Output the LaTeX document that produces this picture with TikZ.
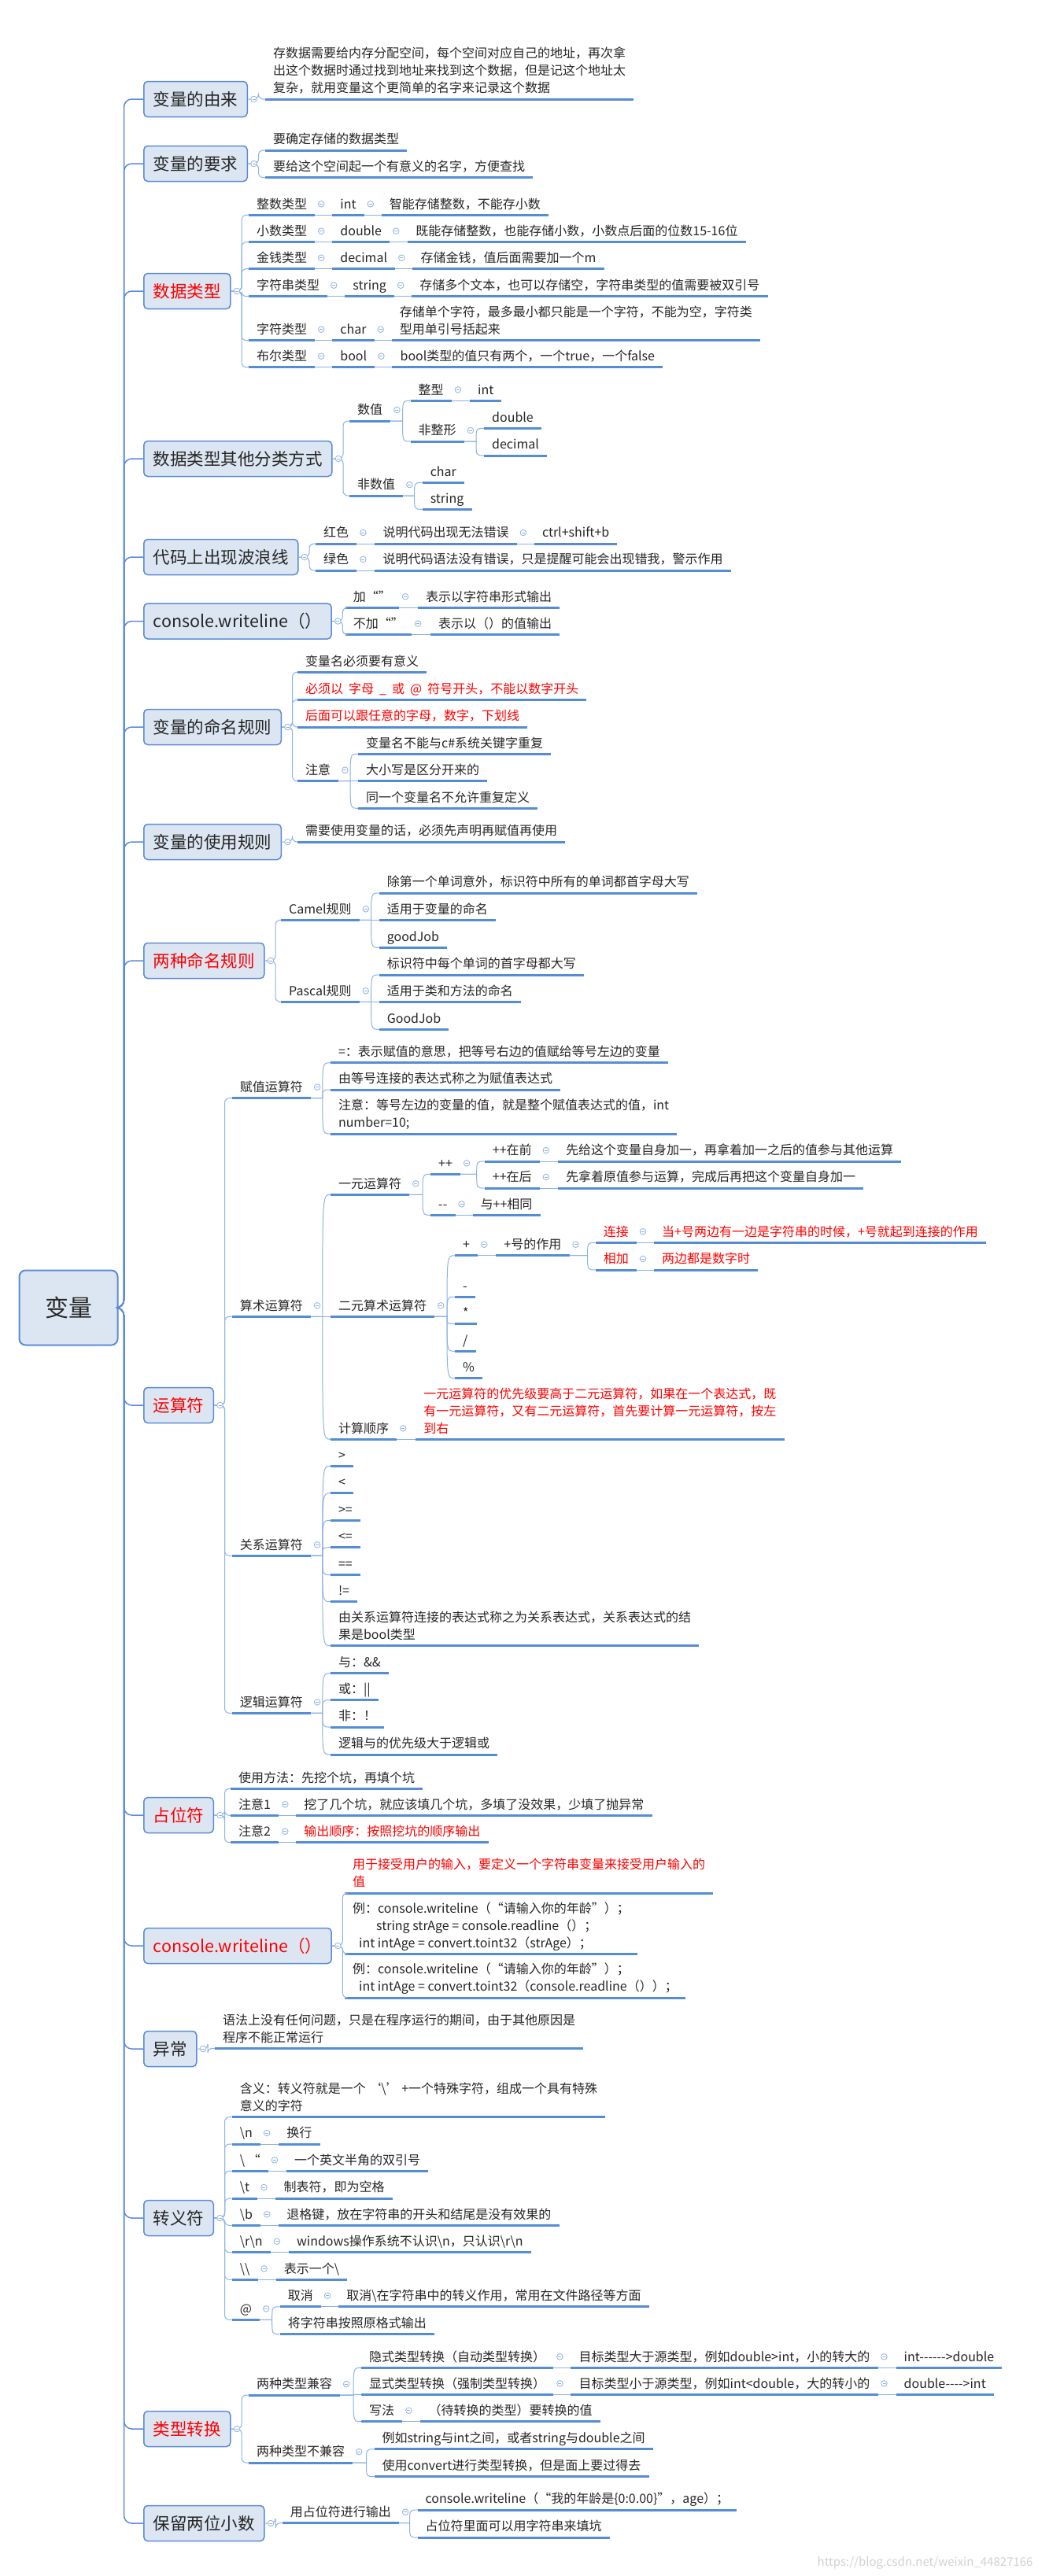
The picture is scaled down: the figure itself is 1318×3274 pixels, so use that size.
\documentclass[tikz,border=0pt]{standalone}
\usepackage{fontspec}
\setmainfont{Noto Sans CJK SC}[Ligatures=TeXOff]
\usetikzlibrary{calc}
\definecolor{ulblue}{HTML}{548DD4}
\definecolor{lnblue}{HTML}{8DB3E2}
\definecolor{boxfill}{HTML}{DCE6F2}
\definecolor{boxline}{HTML}{5B8BD6}
\definecolor{txt}{HTML}{262626}
\definecolor{hot}{HTML}{FF0000}
\newcommand\leaffont{\fontsize{16}{22}\selectfont}
\newcommand\topicfont{\fontsize{21.5}{26}\selectfont}
\tikzset{
  uline/.style={ulblue, line width=3pt},
  conn/.style={lnblue, line width=1pt},
  trunk/.style={boxline, line width=1.5pt, rounded corners=10pt},
  foldc/.style={lnblue, line width=0.8pt},
  leaf/.style={anchor=south west, inner xsep=10pt, inner ysep=0pt, text depth=8pt,
    font=\leaffont, text=txt, align=left,
    append after command={\pgfextra{\draw[uline] (\tikzlastnode.south west) -- (\tikzlastnode.south east);}}},
  hotleaf/.style={leaf, text=hot},
  topic/.style={draw=boxline, line width=1.5pt, fill=boxfill, rounded corners=5pt,
    anchor=west, inner xsep=12pt, minimum height=45pt, font=\topicfont, text=txt},
  hottopic/.style={topic, text=hot},
  rootbox/.style={draw=boxline, line width=2pt, fill=boxfill, rounded corners=8pt,
    minimum width=125pt, minimum height=95pt, font=\fontsize{30}{36}\selectfont, text=txt}
}
% collapse marker, links between nodes
\newcommand\foldmark[1]{\draw[foldc, fill=white] #1 circle[radius=3.8pt]; \draw[foldc] #1 ++(-2pt,0) -- ++(4pt,0);}
\newcommand\rowlink[2]{\draw[conn] (#1.south east) -- (#2.south west); \foldmark{([xshift=8pt,yshift=14pt]#1.south east)}}
\newcommand\boxlink[2]{\draw[conn, rounded corners=6pt] (#1.east) -- ++(13.5pt,0) |- (#2.south west);}
\newcommand\curvelink[2]{\path ([xshift=-10pt]#2.south west) coordinate (cj);
  \draw[conn] (#1.south east) -- (cj |- #1.south east) .. controls (cj) .. (#2.south west);}

\begin{document}
\begin{tikzpicture}[x=1pt, y=-1pt]
  \fill[white] (0,0) rectangle (1318,3274);
  \useasboundingbox (0,0) rectangle (1318,3274);
  % root and main topics
  \node[rootbox] (var) at (87,1662) {变量};
  \node[topic] (origin) at (182,126) {变量的由来};
  \node[topic] (req) at (182,208) {变量的要求};
  \node[hottopic] (dtype) at (182,370) {数据类型};
  \node[topic] (dother) at (182,583) {数据类型其他分类方式};
  \node[topic] (wave) at (182,708) {代码上出现波浪线};
  \node[topic] (cwa) at (182,789.5) {console.writeline（）};
  \node[topic] (naming) at (182,924) {变量的命名规则};
  \node[topic] (usage) at (182,1070) {变量的使用规则};
  \node[hottopic] (rules) at (182,1221) {两种命名规则};
  \node[hottopic] (ops) at (182,1786) {运算符};
  \node[hottopic] (place) at (182,2307) {占位符};
  \node[hottopic] (cwb) at (182,2473) {console.writeline（）};
  \node[topic] (exc) at (182,2604) {异常};
  \node[topic] (esc) at (182,2819) {转义符};
  \node[hottopic] (conv) at (182,3087) {类型转换};
  \node[topic] (keep) at (182,3207) {保留两位小数};
  \foreach \b in {origin,req,dtype,dother,wave,cwa,naming,usage,rules,ops,place,cwb,exc,esc,conv,keep}
    {\draw[trunk] (var.east) -- ++(7pt,0) |- (\b.west);}

  % 变量的由来 / 要求
  \node[leaf] (o1) at (337,126) {存数据需要给内存分配空间，每个空间对应自己的地址，再次拿\\出这个数据时通过找到地址来找到这个数据，但是记这个地址太\\复杂，就用变量这个更简单的名字来记录这个数据};
  \node[leaf] (r1) at (337,191) {要确定存储的数据类型};
  \node[leaf] (r2) at (337,225.7) {要给这个空间起一个有意义的名字，方便查找};
  \boxlink{origin}{o1}
  \foreach \c in {r1,r2} {\boxlink{req}{\c}}

  % 数据类型
  \node[leaf] (t1a) at (315.8,273.3) {整数类型};
  \node[leaf] (t1b) at ([xshift=22pt]t1a.south east) {int};
  \node[leaf] (t1c) at ([xshift=22pt]t1b.south east) {智能存储整数，不能存小数};
  \node[leaf] (t2a) at (315.8,307.7) {小数类型};
  \node[leaf] (t2b) at ([xshift=22pt]t2a.south east) {double};
  \node[leaf] (t2c) at ([xshift=23pt]t2b.south east) {既能存储整数，也能存储小数，小数点后面的位数15-16位};
  \node[leaf] (t3a) at (315.8,341.7) {金钱类型};
  \node[leaf] (t3b) at ([xshift=22pt]t3a.south east) {decimal};
  \node[leaf] (t3c) at ([xshift=22pt]t3b.south east) {存储金钱，值后面需要加一个m};
  \node[leaf] (t4a) at (315.8,376.7) {字符串类型};
  \node[leaf] (t4b) at ([xshift=22pt]t4a.south east) {string};
  \node[leaf] (t4c) at ([xshift=22pt]t4b.south east) {存储多个文本，也可以存储空，字符串类型的值需要被双引号};
  \node[leaf] (t5a) at (315.8,432.7) {字符类型};
  \node[leaf] (t5b) at ([xshift=22pt]t5a.south east) {char};
  \node[leaf] (t5c) at ([xshift=22pt]t5b.south east) {存储单个字符，最多最小都只能是一个字符，不能为空，字符类\\型用单引号括起来};
  \node[leaf] (t6a) at (315.8,466.7) {布尔类型};
  \node[leaf] (t6b) at ([xshift=22pt]t6a.south east) {bool};
  \node[leaf] (t6c) at ([xshift=22pt]t6b.south east) {bool类型的值只有两个，一个true，一个false};
  \foreach \c in {t1a,t2a,t3a,t4a,t5a,t6a} {\boxlink{dtype}{\c}}
  \foreach \r in {1,...,6} {\rowlink{t\r a}{t\r b} \rowlink{t\r b}{t\r c}}

  % 数据类型其他分类方式
  \node[leaf] (num) at (444,535) {数值};
  \node[leaf] (nonnum) at (444,630) {非数值};
  \node[leaf] (intg) at (521.5,509.3) {整型};
  \node[leaf] (intn) at ([xshift=23pt]intg.south east) {int};
  \node[leaf] (nonint) at (521.5,561) {非整形};
  \node[leaf] (dbl) at (615,544.3) {double};
  \node[leaf] (dcm) at (615,579) {decimal};
  \node[leaf] (chr) at (536.6,613.3) {char};
  \node[leaf] (strg) at (536.6,647.3) {string};
  \foreach \c in {num,nonnum} {\boxlink{dother}{\c}}
  \foreach \c in {intg,nonint} {\curvelink{num}{\c}}
  \foreach \c in {dbl,dcm} {\curvelink{nonint}{\c}}
  \foreach \c in {chr,strg} {\curvelink{nonnum}{\c}}
  \rowlink{intg}{intn}
  \foreach \p in {num,nonint,nonnum} {\foldmark{([xshift=8pt,yshift=14pt]\p.south east)}}

  % 代码上出现波浪线
  \node[leaf] (wr1) at (401,691) {红色};
  \node[leaf] (wr2) at ([xshift=23pt]wr1.south east) {说明代码出现无法错误};
  \node[leaf] (wr3) at ([xshift=22pt]wr2.south east) {ctrl+shift+b};
  \node[leaf] (wg1) at (401,725) {绿色};
  \node[leaf] (wg2) at ([xshift=23pt]wg1.south east) {说明代码语法没有错误，只是提醒可能会出现错我，警示作用};
  \foreach \c in {wr1,wg1} {\boxlink{wave}{\c}}
  \rowlink{wr1}{wr2} \rowlink{wr2}{wr3} \rowlink{wg1}{wg2}

  % console.writeline（） 1
  \node[leaf] (qa1) at (438.6,772.3) {加“”};
  \node[leaf] (qa2) at ([xshift=24pt]qa1.south east) {表示以字符串形式输出};
  \node[leaf] (qb1) at (438.6,806.7) {不加“”};
  \node[leaf] (qb2) at ([xshift=24pt]qb1.south east) {表示以（）的值输出};
  \foreach \c in {qa1,qb1} {\boxlink{cwa}{\c}}
  \rowlink{qa1}{qa2} \rowlink{qb1}{qb2}

  % 变量的命名规则 / 使用规则
  \node[leaf] (nm1) at (378,854.3) {变量名必须要有意义};
  \node[hotleaf] (nm2) at (378,889.3) {必须以\hspace{7pt}字母\hspace{7pt}\_\hspace{7pt}或\hspace{7pt}@\hspace{7pt}符号开头，不能以数字开头};
  \node[hotleaf] (nm3) at (378,924) {后面可以跟任意的字母，数字，下划线};
  \node[leaf] (nm4) at (378,992.7) {注意};
  \node[leaf] (nt1) at (455,958.3) {变量名不能与c\#系统关键字重复};
  \node[leaf] (nt2) at (455,992.7) {大小写是区分开来的};
  \node[leaf] (nt3) at (455,1027.3) {同一个变量名不允许重复定义};
  \foreach \c in {nm1,nm2,nm3,nm4} {\boxlink{naming}{\c}}
  \foreach \c in {nt1,nt2,nt3} {\curvelink{nm4}{\c}}
  \foldmark{([xshift=8pt,yshift=14pt]nm4.south east)}
  \node[leaf] (us1) at (378,1070) {需要使用变量的话，必须先声明再赋值再使用};
  \boxlink{usage}{us1}

  % 两种命名规则
  \node[leaf] (camel) at (357,1169.3) {Camel规则};
  \node[leaf] (cm1) at (481.6,1135) {除第一个单词意外，标识符中所有的单词都首字母大写};
  \node[leaf] (cm2) at (481.6,1169.3) {适用于变量的命名};
  \node[leaf] (cm3) at (481.6,1204.3) {goodJob};
  \node[leaf] (pascal) at (357,1273.3) {Pascal规则};
  \node[leaf] (ps1) at (481.6,1239) {标识符中每个单词的首字母都大写};
  \node[leaf] (ps2) at (481.6,1273.3) {适用于类和方法的命名};
  \node[leaf] (ps3) at (481.6,1308.3) {GoodJob};
  \foreach \c in {camel,pascal} {\boxlink{rules}{\c}}
  \foreach \c in {cm1,cm2,cm3} {\curvelink{camel}{\c}}
  \foreach \c in {ps1,ps2,ps3} {\curvelink{pascal}{\c}}
  \foreach \p in {camel,pascal} {\foldmark{([xshift=8pt,yshift=14pt]\p.south east)}}

  % 运算符
  \node[leaf] (asg) at (294.7,1395.7) {赋值运算符};
  \node[leaf] (ari) at (294.7,1673.3) {算术运算符};
  \node[leaf] (rel) at (294.7,1977.3) {关系运算符};
  \node[leaf] (lgc) at (294.7,2177.3) {逻辑运算符};
  \foreach \c in {asg,ari,rel,lgc} {\boxlink{ops}{\c}}
  \node[leaf] (as1) at (419.8,1350.7) {=：表示赋值的意思，把等号右边的值赋给等号左边的变量};
  \node[leaf] (as2) at (419.8,1385) {由等号连接的表达式称之为赋值表达式};
  \node[leaf] (as3) at (419.8,1441) {注意：等号左边的变量的值，就是整个赋值表达式的值，int\\ number=10;};
  \foreach \c in {as1,as2,as3} {\curvelink{asg}{\c}}
  \node[leaf] (un) at (419.8,1518.3) {一元运算符};
  \node[leaf] (bi) at (419.8,1673.3) {二元算术运算符};
  \node[leaf] (ord) at (419.8,1829.3) {计算顺序};
  \node[hotleaf] (ordt) at ([xshift=24pt]ord.south east) {一元运算符的优先级要高于二元运算符，如果在一个表达式，既\\有一元运算符，又有二元运算符，首先要计算一元运算符，按左\\到右};
  \foreach \c in {un,bi,ord} {\curvelink{ari}{\c}}
  \rowlink{ord}{ordt}
  \node[leaf] (pp) at (547,1492.3) {++};
  \node[leaf] (mm) at (547,1544.3) {--};
  \node[leaf] (mmt) at ([xshift=22pt]mm.south east) {与++相同};
  \foreach \c in {pp,mm} {\curvelink{un}{\c}}
  \rowlink{mm}{mmt}
  \node[leaf] (pre) at (615.7,1476) {++在前};
  \node[leaf] (pret) at ([xshift=23pt]pre.south east) {先给这个变量自身加一，再拿着加一之后的值参与其他运算};
  \node[leaf] (post) at (615.7,1510) {++在后};
  \node[leaf] (postt) at ([xshift=23pt]post.south east) {先拿着原值参与运算，完成后再把这个变量自身加一};
  \foreach \c in {pre,post} {\curvelink{pp}{\c}}
  \rowlink{pre}{pret} \rowlink{post}{postt}
  \node[leaf] (plus) at (578,1595.7) {+};
  \node[leaf] (plusr) at ([xshift=23pt]plus.south east) {+号的作用};
  \node[leaf] (sub) at (578,1648.3) {-};
  \node[leaf] (mul) at (578,1682.7) {*};
  \node[leaf] (dvd) at (578,1717.3) {/};
  \node[leaf] (mdl) at (578,1751.7) {\%};
  \foreach \c in {plus,sub,mul,dvd,mdl} {\curvelink{bi}{\c}}
  \rowlink{plus}{plusr}
  \node[hotleaf] (cat) at (756.6,1579.3) {连接};
  \node[hotleaf] (catt) at ([xshift=22pt]cat.south east) {当+号两边有一边是字符串的时候，+号就起到连接的作用};
  \node[hotleaf] (sum) at (756.6,1614) {相加};
  \node[hotleaf] (sumt) at ([xshift=22pt]sum.south east) {两边都是数字时};
  \foreach \c in {cat,sum} {\curvelink{plusr}{\c}}
  \rowlink{cat}{catt} \rowlink{sum}{sumt}
  \node[leaf] (rl1) at (419.8,1863.3) {>};
  \node[leaf] (rl2) at (419.8,1897.7) {<};
  \node[leaf] (rl3) at (419.8,1932.3) {>=};
  \node[leaf] (rl4) at (419.8,1966.7) {<=};
  \node[leaf] (rl5) at (419.8,2001.7) {==};
  \node[leaf] (rl6) at (419.8,2035.7) {!=};
  \node[leaf] (rl7) at (419.8,2091.7) {由关系运算符连接的表达式称之为关系表达式，关系表达式的结\\果是bool类型};
  \foreach \c in {rl1,rl2,rl3,rl4,rl5,rl6,rl7} {\curvelink{rel}{\c}}
  \node[leaf] (lg1) at (419.8,2126.7) {与：\&\&};
  \node[leaf] (lg2) at (419.8,2160.7) {或：||};
  \node[leaf] (lg3) at (419.8,2195) {非：！};
  \node[leaf] (lg4) at (419.8,2230) {逻辑与的优先级大于逻辑或};
  \foreach \c in {lg1,lg2,lg3,lg4} {\curvelink{lgc}{\c}}
  \foreach \p in {asg,ari,rel,lgc,un,bi,pp,plusr} {\foldmark{([xshift=8pt,yshift=14pt]\p.south east)}}

  % 占位符
  \node[leaf] (pl1) at (293,2273.3) {使用方法：先挖个坑，再填个坑};
  \node[leaf] (pl2) at (293,2307.3) {注意1};
  \node[leaf] (pl2t) at ([xshift=22pt]pl2.south east) {挖了几个坑，就应该填几个坑，多填了没效果，少填了抛异常};
  \node[leaf] (pl3) at (293,2341.7) {注意2};
  \node[hotleaf] (pl3t) at ([xshift=22pt]pl3.south east) {输出顺序：按照挖坑的顺序输出};
  \foreach \c in {pl1,pl2,pl3} {\boxlink{place}{\c}}
  \rowlink{pl2}{pl2t} \rowlink{pl3}{pl3t}

  % console.writeline（） 2
  \node[hotleaf] (rd1) at (438,2406) {用于接受用户的输入，要定义一个字符串变量来接受用户输入的\\值};
  \node[leaf] (rd2) at (438,2483.3) {例：console.writeline（“请输入你的年龄”）；\\\hspace*{30pt}string strAge = console.readline（）；\\\hspace*{8pt}int intAge = convert.toint32（strAge）；};
  \node[leaf] (rd3) at (438,2539) {例：console.writeline（“请输入你的年龄”）；\\\hspace*{8pt}int intAge = convert.toint32（console.readline（））；};
  \foreach \c in {rd1,rd2,rd3} {\boxlink{cwb}{\c}}

  % 异常
  \node[leaf] (ex1) at (272.8,2603.3) {语法上没有任何问题，只是在程序运行的期间，由于其他原因是\\程序不能正常运行};
  \boxlink{exc}{ex1}

  % 转义符
  \node[leaf] (mean) at (294.7,2690.7) {含义：转义符就是一个 ‘\textbackslash’ +一个特殊字符，组成一个具有特殊\\意义的字符};
  \node[leaf] (e1) at (294.7,2725) {\textbackslash n};
  \node[leaf] (e1t) at ([xshift=23pt]e1.south east) {换行};
  \node[leaf] (e2) at (294.7,2759.3) {\textbackslash\ “};
  \node[leaf] (e2t) at ([xshift=23pt]e2.south east) {一个英文半角的双引号};
  \node[leaf] (e3) at (294.7,2794) {\textbackslash t};
  \node[leaf] (e3t) at ([xshift=23pt]e3.south east) {制表符，即为空格};
  \node[leaf] (e4) at (294.7,2828.3) {\textbackslash b};
  \node[leaf] (e4t) at ([xshift=23pt]e4.south east) {退格键，放在字符串的开头和结尾是没有效果的};
  \node[leaf] (e5) at (294.7,2862.7) {\textbackslash r\textbackslash n};
  \node[leaf] (e5t) at ([xshift=23pt]e5.south east) {windows操作系统不认识\textbackslash n，只认识\textbackslash r\textbackslash n};
  \node[leaf] (e6) at (294.7,2897.3) {\textbackslash\textbackslash};
  \node[leaf] (e6t) at ([xshift=23pt]e6.south east) {表示一个\textbackslash};
  \node[leaf] (e7) at (294.7,2948.3) {@};
  \node[leaf] (at1) at (355.7,2931.7) {取消};
  \node[leaf] (at1t) at ([xshift=22pt]at1.south east) {取消\textbackslash 在字符串中的转义作用，常用在文件路径等方面};
  \node[leaf] (at2) at (355.7,2966.7) {将字符串按照原格式输出};
  \foreach \c in {mean,e1,e2,e3,e4,e5,e6,e7} {\boxlink{esc}{\c}}
  \foreach \r in {1,...,6} {\rowlink{e\r}{e\r t}}
  \foreach \c in {at1,at2} {\curvelink{e7}{\c}}
  \rowlink{at1}{at1t}
  \foldmark{([xshift=8pt,yshift=14pt]e7.south east)}

  % 类型转换
  \node[leaf] (cp) at (315.8,3044) {两种类型兼容};
  \node[leaf] (icp) at (315.8,3130) {两种类型不兼容};
  \foreach \c in {cp,icp} {\boxlink{conv}{\c}}
  \node[leaf] (imp) at (459,3009.3) {隐式类型转换（自动类型转换）};
  \node[leaf] (impt) at ([xshift=22pt]imp.south east) {目标类型大于源类型，例如double>int，小的转大的};
  \node[leaf] (impe) at ([xshift=23pt]impt.south east) {int------>double};
  \node[leaf] (exp) at (459,3043.3) {显式类型转换（强制类型转换）};
  \node[leaf] (expt) at ([xshift=22pt]exp.south east) {目标类型小于源类型，例如int<double，大的转小的};
  \node[leaf] (expe) at ([xshift=23pt]expt.south east) {double---->int};
  \node[leaf] (syn) at (459,3077.7) {写法};
  \node[leaf] (synt) at ([xshift=23pt]syn.south east) {（待转换的类型）要转换的值};
  \foreach \c in {imp,exp,syn} {\curvelink{cp}{\c}}
  \rowlink{imp}{impt} \rowlink{impt}{impe} \rowlink{exp}{expt} \rowlink{expt}{expe} \rowlink{syn}{synt}
  \node[leaf] (ic1) at (475.5,3112.7) {例如string与int之间，或者string与double之间};
  \node[leaf] (ic2) at (475.5,3147.7) {使用convert进行类型转换，但是面上要过得去};
  \foreach \c in {ic1,ic2} {\curvelink{icp}{\c}}
  \foreach \p in {cp,icp} {\foldmark{([xshift=8pt,yshift=14pt]\p.south east)}}

  % 保留两位小数
  \node[leaf] (ph) at (358.7,3206.7) {用占位符进行输出};
  \node[leaf] (kp1) at (530.5,3190) {console.writeline（“我的年龄是\{0:0.00\}”，age）；};
  \node[leaf] (kp2) at (530.5,3225) {占位符里面可以用字符串来填坑};
  \boxlink{keep}{ph}
  \foreach \c in {kp1,kp2} {\curvelink{ph}{\c}}
  \foldmark{([xshift=8pt,yshift=14pt]ph.south east)}

  % collapse markers of the main topics
  \foreach \b in {origin,req,dtype,dother,wave,cwa,naming,usage,rules,ops,place,cwb,exc,esc,conv,keep}
    {\foldmark{([xshift=7.5pt]\b.east)}}
  \node[anchor=east, text=black!18, font=\fontsize{15}{18}\selectfont] (mark) at (1316,3257) {https://blog.csdn.net/weixin\_44827166};
\end{tikzpicture}
\end{document}
